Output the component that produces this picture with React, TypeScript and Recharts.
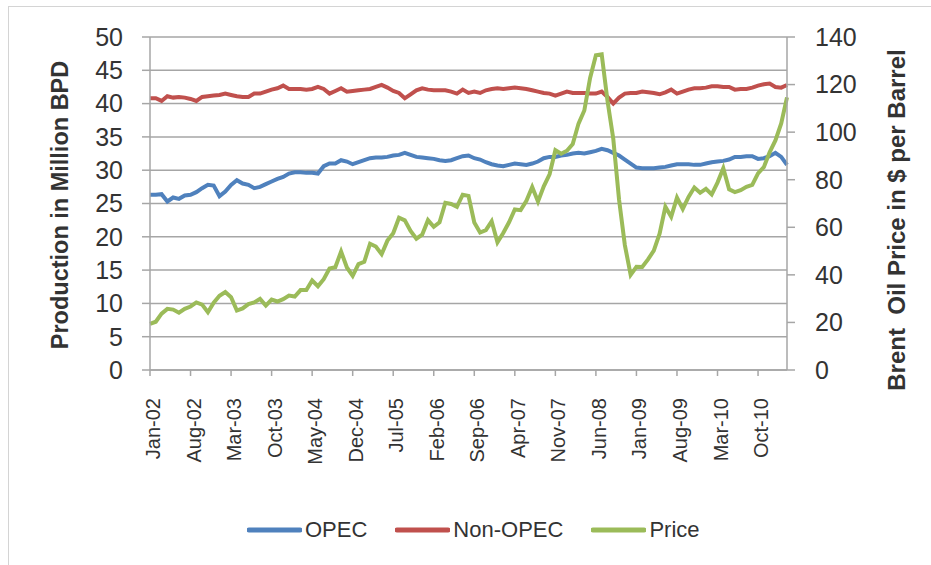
import React from "react";
import { CartesianGrid, Legend, Line, LineChart, XAxis, YAxis } from "recharts";

// monthly series, Jan-02 .. Mar-11
const MONTH_NAMES = ["Jan", "Feb", "Mar", "Apr", "May", "Jun", "Jul", "Aug", "Sep", "Oct", "Nov", "Dec"];
const YEARS = ["02", "03", "04", "05", "06", "07", "08", "09", "10", "11"];

// OPEC production, million BPD
const opec = [
  26.3, 26.3, 26.4, 25.3, 25.9, 25.7, 26.2, 26.3, 26.7, 27.3, 27.8, 27.7,
  26.1, 26.8, 27.8, 28.5, 28.0, 27.8, 27.3, 27.5, 27.9, 28.3, 28.7, 29.0,
  29.5, 29.7, 29.7, 29.6, 29.6, 29.5, 30.6, 31.0, 31.0, 31.5, 31.3, 30.9,
  31.2, 31.5, 31.8, 31.9, 31.9, 32.0, 32.2, 32.3, 32.6, 32.3, 32.0, 31.9,
  31.8, 31.7, 31.5, 31.4, 31.5, 31.8, 32.1, 32.2, 31.8, 31.6, 31.2, 30.9,
  30.7, 30.6, 30.8, 31.0, 30.9, 30.8, 31.0, 31.3, 31.8, 32.0, 32.0, 32.2,
  32.3, 32.5, 32.6, 32.5, 32.7, 32.9, 33.2, 33.0, 32.6, 32.2, 31.6, 31.0,
  30.4, 30.3, 30.3, 30.3, 30.4, 30.5, 30.7, 30.9, 30.9, 30.9, 30.8, 30.8,
  31.0, 31.2, 31.3, 31.4, 31.6, 32.0, 32.0, 32.1, 32.1, 31.7, 31.8, 32.1,
  32.6, 32.0, 30.8,
];

// Non-OPEC production, million BPD
const nonOpec = [
  40.8, 40.8, 40.4, 41.1, 40.9, 41.0, 40.9, 40.7, 40.4, 41.0, 41.1, 41.2,
  41.3, 41.5, 41.3, 41.1, 41.0, 41.0, 41.5, 41.5, 41.8, 42.1, 42.3, 42.7,
  42.2, 42.2, 42.2, 42.1, 42.2, 42.5, 42.2, 41.5, 41.9, 42.3, 41.8, 41.9,
  42.0, 42.1, 42.2, 42.5, 42.8, 42.4, 41.9, 41.6, 40.8, 41.4, 42.0, 42.3,
  42.1, 42.0, 42.0, 42.0, 41.8, 41.5, 42.1, 41.6, 41.8, 41.6, 42.0, 42.2,
  42.3, 42.2, 42.3, 42.4, 42.3, 42.2, 42.0, 41.8, 41.6, 41.5, 41.2, 41.5,
  41.8, 41.6, 41.6, 41.6, 41.5, 41.5, 41.8, 41.0, 40.0, 40.9, 41.5, 41.6,
  41.6, 41.8, 41.7, 41.6, 41.4, 41.7, 42.1, 41.5, 41.8, 42.1, 42.3, 42.3,
  42.4, 42.6, 42.6, 42.5, 42.5, 42.1, 42.2, 42.2, 42.4, 42.7, 42.9, 43.0,
  42.5, 42.4, 42.8,
];

// Brent, $ per barrel
const price = [
  19.4, 20.3, 23.7, 25.7, 25.4, 24.1, 25.7, 26.7, 28.4, 27.5, 24.3, 28.3,
  31.2, 32.8, 30.6, 25.0, 25.9, 27.7, 28.4, 29.9, 27.1, 29.6, 28.8, 29.8,
  31.3, 30.9, 33.6, 33.6, 37.6, 35.2, 38.2, 42.7, 43.2, 49.8, 43.1, 39.6,
  44.5, 45.5, 53.1, 51.9, 48.7, 54.4, 57.5, 64.0, 62.9, 58.5, 55.2, 56.9,
  63.0, 60.2, 62.1, 70.3, 69.8, 68.6, 73.7, 73.2, 62.0, 57.8, 58.8, 62.5,
  53.7, 57.6, 62.1, 67.5, 67.2, 71.1, 76.9, 70.8, 77.2, 82.3, 92.4, 90.9,
  92.2, 95.0, 103.6, 109.1, 122.8, 132.3, 132.7, 113.2, 97.2, 71.6, 52.5, 40.0,
  43.4, 43.3, 46.5, 50.2, 57.3, 68.6, 64.4, 72.5, 67.7, 72.8, 76.7, 74.5,
  76.2, 73.8, 78.8, 84.8, 76.0, 74.8, 75.6, 77.0, 77.8, 82.7, 85.3, 91.5,
  96.5, 103.7, 114.6,
];

const leftTicks = [0, 5, 10, 15, 20, 25, 30, 35, 40, 45, 50];
const rightTicks = [0, 20, 40, 60, 80, 100, 120, 140];
const legendOrder = ["OPEC", "Non-OPEC", "Price"];

const months = YEARS.flatMap((y) => MONTH_NAMES.map((m) => `${m}-${y}`)).slice(0, price.length);
const data = months.map((month, i) => ({ month, opec: opec[i], nonOpec: nonOpec[i], price: price[i] }));

const FONT = "'Liberation Sans', Arial, sans-serif";
const GRID = "#a6a6a6";
const TEXT = "#333";

function MonthTick({ x, y, payload }: any) {
  const ty = y + 20;
  return (
    <text x={x} y={ty} dy={10} transform={`rotate(-90 ${x} ${ty})`} textAnchor="end"
      fontFamily={FONT} fontSize={20} fill={TEXT}>
      {payload.value}
    </text>
  );
}

function LegendContent({ payload }: any) {
  const items = [...(payload || [])].sort((a: any, b: any) => legendOrder.indexOf(a.value) - legendOrder.indexOf(b.value));
  return (
    <div style={{ display: "flex", alignItems: "center", height: 30, fontFamily: FONT, fontSize: 22, color: TEXT }}>
      {items.map((p: any) => (
        <span key={p.value} style={{ display: "flex", alignItems: "center", marginRight: 28 }}>
          <svg width={55} height={6}><line x1={2} y1={3} x2={53} y2={3} stroke={p.color} strokeWidth={5} strokeLinecap="round" /></svg>
          <span style={{ marginLeft: 3 }}>{p.value}</span>
        </span>
      ))}
    </div>
  );
}

export default function App() {
  return (
    <>
      <style>{"body{margin:0;overflow:hidden}"}</style>
      <div style={{ position: "absolute", left: 8, top: 6, width: 922, height: 558, borderTop: "1px solid #d4d4d4", borderLeft: "1px solid #d4d4d4", background: "#fff" }}>
        <LineChart width={922} height={558} data={data} margin={{ top: 30, right: 0, bottom: 0, left: 0 }}>
          <CartesianGrid yAxisId="left" vertical={false} stroke={GRID} strokeWidth={1.5} />
          <XAxis dataKey="month" interval={6} tick={<MonthTick />} tickSize={6} height={195}
            stroke={GRID} strokeWidth={1.5} />
          <YAxis yAxisId="left" domain={[0, 50]} ticks={leftTicks} width={141} tickSize={8} tickMargin={19}
            stroke={GRID} strokeWidth={1.5} tick={{ fill: TEXT, fontSize: 25, fontFamily: FONT }}
            label={{
              content: ({ viewBox }: any) => {
                const cx = viewBox.x + 51, cy = viewBox.y + viewBox.height / 2 + 1.5;
                return (
                  <text x={cx} y={cy} transform={`rotate(-90 ${cx} ${cy})`} textAnchor="middle" dominantBaseline="central"
                    fontFamily={FONT} fontSize={23.5} fontWeight="bold" fill={TEXT}>
                    Production in Million BPD
                  </text>
                );
              },
            }} />
          <YAxis yAxisId="right" orientation="right" domain={[0, 140]} ticks={rightTicks} width={144} tickSize={8} tickMargin={20}
            stroke={GRID} strokeWidth={1.5} tick={{ fill: TEXT, fontSize: 25, fontFamily: FONT }}
            label={{
              content: ({ viewBox }: any) => {
                const cx = viewBox.x + 109, cy = viewBox.y + viewBox.height / 2 + 16.5;
                return (
                  <text x={cx} y={cy} transform={`rotate(-90 ${cx} ${cy})`} textAnchor="middle" dominantBaseline="central"
                    fontFamily={FONT} fontSize={24} fontWeight="bold" fill={TEXT} style={{ whiteSpace: "pre" }}>
                    {"Brent  Oil Price in $ per Barrel"}
                  </text>
                );
              },
            }} />
          <Legend content={<LegendContent />} wrapperStyle={{ left: 238, top: 508, bottom: "auto", width: "auto", height: 0 }} />
          <Line yAxisId="left" dataKey="opec" name="OPEC" stroke="#4f81bd" strokeWidth={4} dot={false} isAnimationActive={false} />
          <Line yAxisId="left" dataKey="nonOpec" name="Non-OPEC" stroke="#c0504d" strokeWidth={4} dot={false} isAnimationActive={false} />
          <Line yAxisId="right" dataKey="price" name="Price" stroke="#9bbb59" strokeWidth={4} dot={false} isAnimationActive={false} />
        </LineChart>
      </div>
    </>
  );
}
